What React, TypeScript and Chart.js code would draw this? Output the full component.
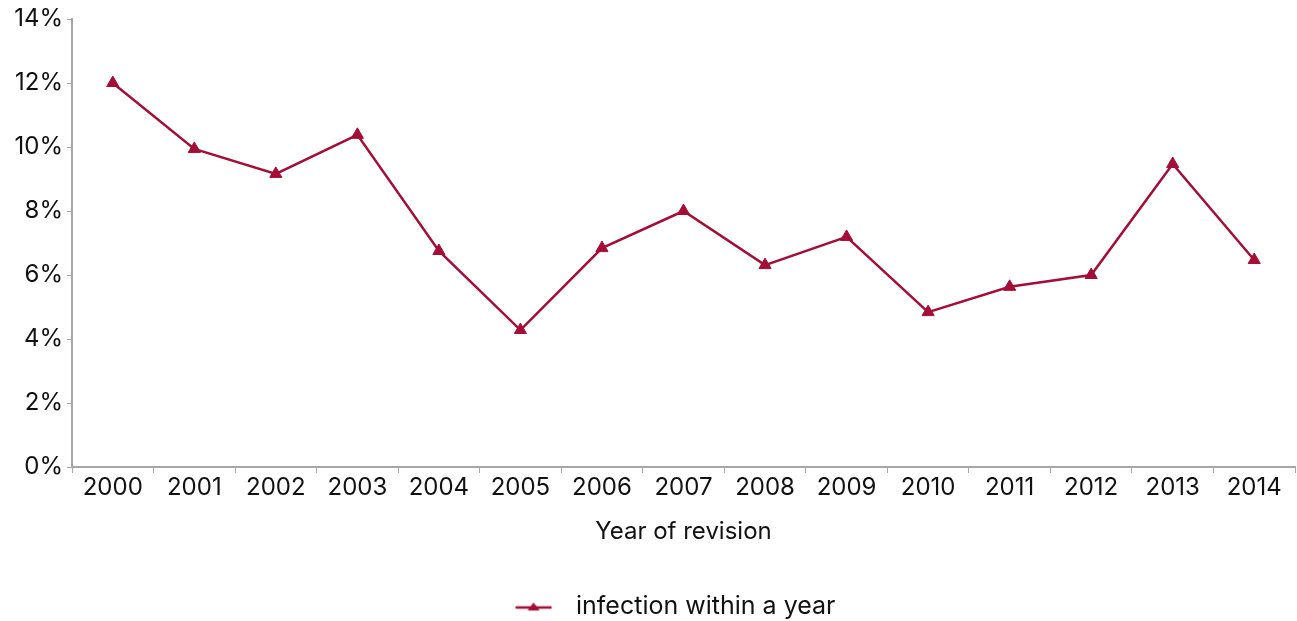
import React, { useEffect, useRef } from "react";
import { Chart, registerables } from "chart.js";

Chart.register(...registerables);

const years = ["2000","2001","2002","2003","2004","2005","2006","2007","2008","2009","2010","2011","2012","2013","2014"];
const infectionWithinYear = [12.0, 9.94, 9.16, 10.38, 6.75, 4.28, 6.84, 8.0, 6.31, 7.19, 4.84, 5.63, 6.0, 9.47, 6.47];
const seriesLabel = "infection within a year";
const xTitle = "Year of revision";
const yTicks = [0, 2, 4, 6, 8, 10, 12, 14];

const LINE = "#A50D36";
const AXIS = "#A6A6A6";
const FONT = "Inter, 'Liberation Sans', Arial, sans-serif";

function makeLegendMarker(): HTMLCanvasElement {
  const c = document.createElement("canvas");
  c.width = 84;
  c.height = 14;
  const ctx = c.getContext("2d")!;
  const x0 = 46;
  ctx.strokeStyle = LINE;
  ctx.lineWidth = 2.5;
  ctx.beginPath();
  ctx.moveTo(x0, 8);
  ctx.lineTo(x0 + 36, 8);
  ctx.stroke();
  ctx.fillStyle = LINE;
  ctx.beginPath();
  ctx.moveTo(x0 + 18, 3);
  ctx.lineTo(x0 + 24, 11);
  ctx.lineTo(x0 + 12, 11);
  ctx.closePath();
  ctx.fill();
  return c;
}

export default function App() {
  const ref = useRef<HTMLCanvasElement>(null);
  useEffect(() => {
    document.body.style.margin = "0";
    const marker = makeLegendMarker();
    const chart = new Chart(ref.current!, {
      type: "line",
      data: {
        labels: years,
        datasets: [
          {
            label: seriesLabel,
            data: infectionWithinYear,
            borderColor: LINE,
            backgroundColor: LINE,
            borderWidth: 2.5,
            pointStyle: "triangle",
            pointRadius: 7,
            pointBorderWidth: 1,
            tension: 0,
          },
        ],
      },
      options: {
        animation: false,
        responsive: false,
        layout: { autoPadding: false, padding: { top: 19, right: 2, bottom: -8, left: 0 } },
        plugins: {
          tooltip: { enabled: false },
          legend: {
            position: "bottom",
            labels: {
              font: { family: FONT, size: 25 },
              color: "#111",
              padding: 0,
              usePointStyle: true,
              pointStyleWidth: 104,
              generateLabels: (ch: any) =>
                ch.data.datasets.map((ds: any, i: number) => ({
                  text: ds.label,
                  pointStyle: marker,
                  fillStyle: LINE,
                  strokeStyle: LINE,
                  lineWidth: 0,
                  hidden: false,
                  datasetIndex: i,
                  fontColor: "#111",
                })),
            },
          },
        },
        scales: {
          x: {
            offset: true,
            grid: { display: true, drawOnChartArea: false, offset: true, tickLength: 6, color: AXIS, lineWidth: 1 },
            border: { display: true, color: AXIS, width: 2 },
            ticks: { font: { family: FONT, size: 24 }, color: "#111", padding: 0, maxRotation: 0, autoSkip: false },
            title: { display: true, text: xTitle, font: { family: FONT, size: 24 }, color: "#111", padding: { top: 10, bottom: 48 } },
            afterFit: (s: any) => { s.height = 127; },
          },
          y: {
            min: 0,
            max: 14,
            afterBuildTicks: (s: any) => { s.ticks = yTicks.map((v) => ({ value: v })); },
            grid: { display: true, drawOnChartArea: false, tickLength: 5, color: AXIS, lineWidth: 1 },
            border: { display: true, color: AXIS, width: 2 },
            ticks: { font: { family: FONT, size: 24 }, color: "#111", padding: 4, callback: (v: any) => v + "%" },
            afterFit: (s: any) => { s.width = 72; },
          },
        },
      },
    });
    return () => chart.destroy();
  }, []);
  return <canvas ref={ref} width={1297} height={621} style={{ display: "block" }} />;
}
